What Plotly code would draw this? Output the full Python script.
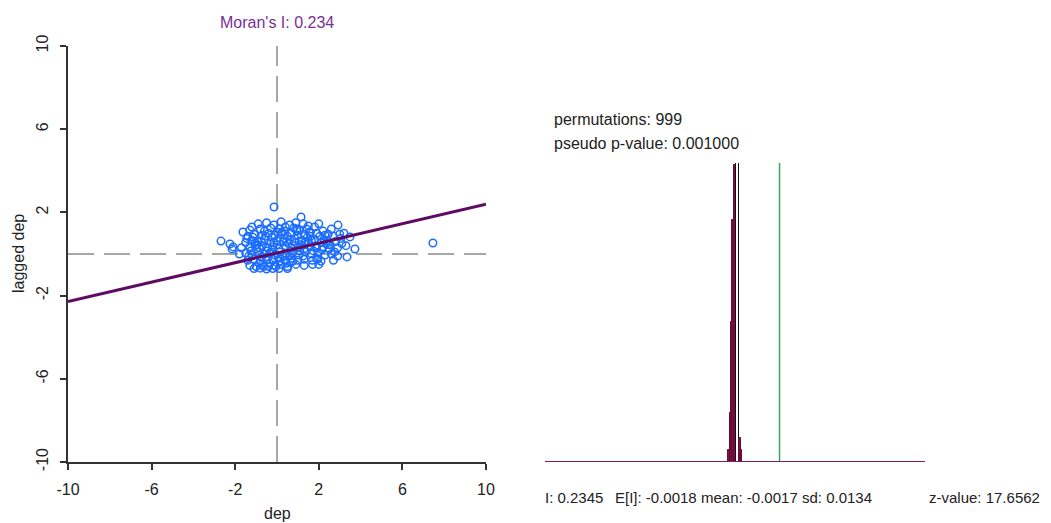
import plotly.graph_objects as go

W, H = 1051, 523          # browser window
PAGE_OFF = 8              # default body margin of the html page
FW, FH = W - PAGE_OFF, H - PAGE_OFF

# ---------------- data ----------------
dep_values = [
    -0.9, -0.5, 0.2, 0.6, 1.15, 1.5, 2.0, 2.92, -1.2, 0.9,
    -1.63, -1.3, -0.8, -0.3, 0.1, 0.4, 0.8, 1.1, 1.4, 1.8, 2.2, 2.6, 3.49, 3.2,
    -1.4, -1.1, -0.7, -0.4, -0.1, 0.2, 0.5, 0.7, 1.0, 1.3, 1.6, 1.9, 2.3, 2.7, 3.0,
    -2.68, -2.25, -1.5, -1.2, -0.9, -0.6, -0.3, 0.0, 0.3, 0.6, 0.9, 1.2, 1.5, 1.8, 2.1, 2.4, 2.8, 3.1, 7.46,
    -2.1, -2.15, -1.7, -1.3, -1.0, -0.7, -0.45, -0.2, 0.1, 0.4, 0.7, 1.0, 1.3, 1.6, 1.9, 2.2, 2.5, 2.9, 3.73, 3.3,
    -1.8, -1.5, -1.2, -0.9, -0.6, -0.35, -0.1, 0.15, 0.45, 0.75, 1.05, 1.35, 1.65, 1.95, 2.3, 2.6, 2.9, 3.35,
    -1.4, -1.1, -0.8, -0.5, -0.2, 0.1, 0.4, 0.7, 1.0, 1.3, 1.7, 2.1, 2.7,
    -1.3, -1.0, -0.7, -0.4, -0.1, 0.2, 0.5, 0.9, 1.3, 2.0,
    -1.1, -0.8, -0.5, -0.2, 0.1,
    -0.5, 0.3, 0.55, -0.25, 0.85, 1.15, -0.75, 0.0, 1.45, 0.25, -0.95, -1.25, 1.75, 2.05, 0.65, -0.15, -0.14,
    -0.6, 0.35, 1.25, -1.05, 0.95, 1.6, 2.45, -0.35, 0.05, 0.6, 1.9, -0.85, 0.45, 1.1, 2.25,
    -1.45, -1.15, -0.85, -0.55, -0.25, 0.05, 0.35, 0.65, 0.95, 1.25, 1.55, 1.85, 2.15, 2.45, 2.75,
    -1.35, -1.05, -0.75, -0.45, -0.15, 0.15, 0.45, 0.75, 1.05, 1.35, 1.65, 1.95, 2.35,
    -0.65, -0.05, 0.5, 1.7, 2.55, 3.05,
]
lag_values = [
    1.45, 1.5, 1.55, 1.4, 1.78, 1.35, 1.45, 1.39, 1.3, 1.5,
    1.06, 1.15, 1.2, 1.25, 1.2, 1.3, 1.25, 1.15, 1.2, 1.3, 1.1, 1.2, 0.82, 1.0,
    0.85, 0.95, 0.9, 1.0, 0.9, 0.95, 0.85, 1.0, 0.9, 0.95, 0.85, 1.0, 0.9, 0.85, 0.95,
    0.62, 0.48, 0.55, 0.65, 0.6, 0.7, 0.55, 0.65, 0.6, 0.7, 0.55, 0.65, 0.6, 0.7, 0.55, 0.65, 0.6, 0.5, 0.53,
    0.34, 0.24, 0.3, 0.35, 0.25, 0.4, 0.3, 0.35, 0.25, 0.4, 0.3, 0.35, 0.25, 0.4, 0.3, 0.35, 0.25, 0.3, 0.24, 0.4,
    0.0, 0.05, -0.05, 0.1, 0.0, 0.05, -0.05, 0.1, 0.0, 0.05, -0.05, 0.1, 0.0, 0.05, -0.05, 0.0, -0.1, -0.14,
    -0.3, -0.25, -0.35, -0.3, -0.25, -0.35, -0.3, -0.2, -0.3, -0.25, -0.3, -0.35, -0.3,
    -0.55, -0.6, -0.5, -0.6, -0.55, -0.5, -0.6, -0.5, -0.55, -0.5,
    -0.7, -0.68, -0.72, -0.7, -0.7,
    0.15, -0.1, 0.5, 0.8, 0.75, 0.45, -0.15, 0.45, 0.8, 1.05, 0.45, 0.15, 0.15, 0.85, -0.4, 1.4, 2.26,
    1.1, 1.1, 1.45, 0.4, 1.2, 1.05, 0.45, -0.45, -0.15, -0.1, -0.2, -0.45, -0.45, 0.15, 0.7,
    0.75, 0.8, 0.3, 0.85, 0.1, 1.05, 0.75, 0.15, 1.1, -0.1, 1.05, 0.4, 0.2, 0.95, 0.1,
    -0.1, 0.55, 0.6, -0.15, 0.55, -0.2, 0.6, -0.35, 0.6, 0.55, 0.65, -0.25, 0.5,
    -0.6, -0.6, -0.7, -0.5, 0.45, 0.75,
]
morans_i = 0.234
reg_intercept = 0.05
x_ticks = [-10, -6, -2, 2, 6, 10]
y_ticks = [-10, -6, -2, 2, 6, 10]
tick_labels = ["-10", "-6", "-2", "2", "6", "10"]

# permutation histogram
perm_bin_edges = [-0.0446, -0.0339, -0.0258, -0.0189, -0.0124, 0.0010, 0.0171, 0.0251, 0.0332]
perm_counts = [11, 46, 130, 225, 276, 278, 22, 11]
highlight_bin = 5
observed_i = 0.2345
stats_labels = ["I: 0.2345", "E[I]: -0.0018", "mean: -0.0017", "sd: 0.0134", "z-value: 17.6562"]
perm_text = ["permutations: 999", "pseudo p-value: 0.001000"]

# ---------------- layout helpers (screen pixel -> paper fraction) ----------------
def px_x(p):
    return (p - PAGE_OFF) / FW

def px_y(p):
    return (H - p) / FH

FONT = "Liberation Sans, Arial, sans-serif"
FS = 16
fig = go.Figure()

# scatter
fig.add_trace(go.Scatter(
    x=dep_values, y=lag_values, mode="markers",
    marker=dict(symbol="circle-open", size=7.5, color="#1a6dff", line=dict(width=1.5)),
    xaxis="x", yaxis="y", hoverinfo="skip", showlegend=False))

# regression line
reg_x = [x_ticks[0], x_ticks[-1]]
reg_y = [morans_i * v + reg_intercept for v in reg_x]
fig.add_trace(go.Scatter(
    x=reg_x, y=reg_y, mode="lines", line=dict(color="#5e0b63", width=3),
    xaxis="x", yaxis="y", hoverinfo="skip", showlegend=False))

# histogram bars
centers = [(perm_bin_edges[i] + perm_bin_edges[i + 1]) / 2 for i in range(len(perm_counts))]
widths = [perm_bin_edges[i + 1] - perm_bin_edges[i] for i in range(len(perm_counts))]
fills = ["#ffffff" if i == highlight_bin else "#7a0f42" for i in range(len(perm_counts))]
lines = ["#111111" if i == highlight_bin else "#6a0c3a" for i in range(len(perm_counts))]
fig.add_trace(go.Bar(
    x=centers, y=perm_counts, width=widths,
    marker=dict(color=fills, line=dict(color=lines, width=1)),
    xaxis="x2", yaxis="y2", hoverinfo="skip", showlegend=False))

max_count = max(perm_counts)
# observed I line
fig.add_trace(go.Scatter(
    x=[observed_i, observed_i], y=[0, max_count], mode="lines",
    line=dict(color="#3aa65c", width=1.5),
    xaxis="x2", yaxis="y2", hoverinfo="skip", showlegend=False))

x2_range = [-1.0237, 1.0149]
shapes = [
    dict(type="line", xref="x", yref="y", x0=0, x1=0, y0=-10, y1=10,
         line=dict(color="#8a8a8a", width=1.5, dash="26px,10px"), layer="below"),
    dict(type="line", xref="x", yref="y", x0=-10, x1=10, y0=0, y1=0,
         line=dict(color="#8a8a8a", width=1.5, dash="26px,10px"), layer="below"),
    dict(type="line", xref="x2", yref="y2", x0=x2_range[0], x1=x2_range[1], y0=0, y1=0,
         line=dict(color="#7a1f6a", width=2)),
]

TXT = "#222222"
annotations = [
    dict(text="Moran's I: 0.234", x=px_x(277), y=px_y(22), xref="paper", yref="paper",
         showarrow=False, font=dict(family=FONT, size=FS, color="#7a2f95"),
         xanchor="center", yanchor="middle"),
    dict(text="dep", x=px_x(277), y=px_y(513), xref="paper", yref="paper",
         showarrow=False, font=dict(family=FONT, size=FS, color=TXT),
         xanchor="center", yanchor="middle"),
    dict(text="lagged dep", x=px_x(18), y=px_y(254), xref="paper", yref="paper",
         showarrow=False, textangle=-90, font=dict(family=FONT, size=FS, color=TXT),
         xanchor="center", yanchor="middle"),
]
for txt, ypx in zip(perm_text, [119, 143]):
    annotations.append(dict(text=txt, x=px_x(552), y=px_y(ypx), xref="paper", yref="paper",
                            showarrow=False, font=dict(family=FONT, size=FS, color=TXT),
                            xanchor="left", yanchor="middle"))
for txt, xpx in zip(stats_labels, [543, 613, 699, 800, 927]):
    annotations.append(dict(text=txt, x=px_x(xpx), y=px_y(497), xref="paper", yref="paper",
                            showarrow=False, font=dict(family=FONT, size=15, color=TXT),
                            xanchor="left", yanchor="middle"))

axis_common = dict(showline=True, linecolor="#333", linewidth=1.5, ticks="outside",
                   ticklen=6, tickcolor="#333", tickwidth=1.5, showgrid=False, zeroline=False,
                   automargin=False, ticklabelstandoff=6,
                   tickfont=dict(family=FONT, size=FS, color=TXT))

fig.update_layout(
    width=FW, height=FH, margin=dict(l=0, r=0, t=0, b=0, autoexpand=False),
    paper_bgcolor="white", plot_bgcolor="white", showlegend=False,
    xaxis=dict(domain=[px_x(68), px_x(486)], range=[-10, 10], tickvals=x_ticks,
               ticktext=tick_labels, anchor="y", **axis_common),
    yaxis=dict(domain=[px_y(462), px_y(46)], range=[-10, 10], tickvals=y_ticks,
               ticktext=tick_labels, tickangle=-90, anchor="x", **axis_common),
    xaxis2=dict(domain=[px_x(545), px_x(925)], range=x2_range, visible=False,
                anchor="y2", automargin=False),
    yaxis2=dict(domain=[px_y(462), px_y(163)], range=[0, max_count], visible=False,
                anchor="x2", automargin=False),
    shapes=shapes, annotations=annotations, bargap=0,
)

fig.write_html("out.html")
